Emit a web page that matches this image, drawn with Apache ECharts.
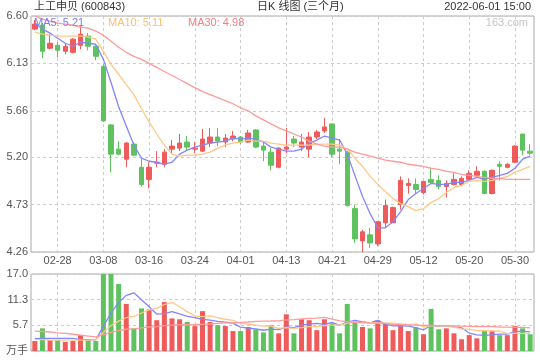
<!DOCTYPE html>
<html><head><meta charset="utf-8">
<script src="https://cdn.jsdelivr.net/npm/echarts@6/dist/echarts.min.js"></script>
<style>html,body{margin:0;padding:0;background:#fff}#c{width:540px;height:360px}</style>
</head><body><div id="c"></div><script>
const dates = ['02-23','02-24','02-25','02-28','03-01','03-02','03-03','03-04','03-07','03-08',
'03-09','03-10','03-11','03-14','03-15','03-16','03-17','03-18','03-21','03-22',
'03-23','03-24','03-25','03-28','03-29','03-30','03-31','04-01','04-06','04-07',
'04-08','04-11','04-12','04-13','04-14','04-15','04-18','04-19','04-20','04-21',
'04-22','04-25','04-26','04-27','04-28','04-29','05-05','05-06','05-09','05-10',
'05-11','05-12','05-13','05-16','05-17','05-18','05-19','05-20','05-23','05-24',
'05-25','05-26','05-27','05-30','05-31','06-01'];
const xLabels = ['02-28','03-08','03-16','03-24','04-01','04-13','04-21','04-29','05-12','05-20','05-30'];
const opens = [6.47,6.51,6.28,6.31,6.25,6.24,6.31,6.40,6.30,6.10,
5.52,5.28,5.18,5.33,5.10,4.98,5.14,5.13,5.28,5.29,
5.35,5.28,5.26,5.34,5.40,5.35,5.38,5.40,5.35,5.47,
5.31,5.25,5.10,5.28,5.38,5.30,5.28,5.40,5.46,5.53,
5.28,5.25,4.69,4.37,4.43,4.34,4.55,4.55,4.73,4.92,
4.93,4.85,4.98,4.97,4.91,4.93,4.93,4.98,5.02,5.06,
4.84,5.13,5.10,5.15,5.43,5.26];
const closes = [6.52,6.25,6.33,6.26,6.30,6.37,6.42,6.30,6.20,5.56,
5.23,5.23,5.34,5.22,4.93,5.10,5.15,5.25,5.31,5.34,
5.30,5.29,5.38,5.40,5.36,5.39,5.41,5.35,5.44,5.30,
5.27,5.12,5.29,5.30,5.34,5.35,5.40,5.45,5.50,5.23,
5.26,4.72,4.39,4.46,4.35,4.56,4.72,4.70,4.97,4.94,
4.88,4.96,4.95,4.91,4.94,4.98,4.99,5.04,5.06,4.84,
5.07,5.11,5.13,5.31,5.27,5.24];
const lows = [6.46,6.18,6.27,6.19,6.22,6.23,6.27,6.26,6.16,5.55,
5.05,5.22,5.10,5.21,4.91,4.89,5.10,5.10,5.24,5.26,
5.27,5.24,5.25,5.30,5.31,5.30,5.36,5.33,5.34,5.29,
5.16,5.07,5.09,5.24,5.30,5.26,5.20,5.38,5.44,5.20,
5.13,4.71,4.35,4.26,4.30,4.32,4.51,4.55,4.68,4.84,
4.84,4.83,4.94,4.88,4.80,4.92,4.91,4.98,5.01,4.84,
4.83,4.97,5.09,5.14,5.22,5.22];
const highs = [6.56,6.53,6.42,6.34,6.33,6.38,6.51,6.43,6.31,6.12,
5.53,5.36,5.35,5.35,5.19,5.15,5.26,5.28,5.37,5.43,
5.41,5.35,5.48,5.49,5.49,5.43,5.46,5.41,5.47,5.48,
5.36,5.29,5.30,5.49,5.41,5.43,5.45,5.47,5.59,5.53,
5.38,5.26,4.73,4.48,4.50,4.56,4.78,4.71,5.01,4.99,
4.99,4.96,5.10,5.02,4.97,5.04,5.01,5.07,5.11,5.07,
5.08,5.16,5.14,5.32,5.43,5.33];
const ma5 = [6.53,6.47,6.43,6.38,6.33,6.30,6.34,6.33,6.32,6.17,
5.94,5.70,5.51,5.32,5.19,5.16,5.15,5.13,5.15,5.23,
5.27,5.30,5.32,5.34,5.35,5.36,5.39,5.38,5.39,5.38,
5.35,5.30,5.28,5.26,5.26,5.28,5.34,5.37,5.41,5.39,
5.37,5.23,5.02,4.81,4.64,4.50,4.50,4.56,4.66,4.78,
4.84,4.89,4.94,4.93,4.93,4.95,4.95,4.97,5.00,4.98,
5.00,5.02,5.04,5.09,5.18,5.21];
const ma10 = [6.44,6.42,6.41,6.40,6.40,6.40,6.40,6.39,6.37,6.25,
6.12,6.02,5.92,5.82,5.68,5.55,5.43,5.32,5.23,5.21,
5.22,5.22,5.23,5.25,5.29,5.32,5.34,5.35,5.37,5.36,
5.36,5.34,5.33,5.32,5.32,5.32,5.32,5.33,5.33,5.33,
5.32,5.28,5.19,5.11,5.01,4.93,4.86,4.79,4.74,4.71,
4.67,4.69,4.75,4.79,4.85,4.90,4.92,4.96,4.97,4.96,
4.97,4.99,5.01,5.05,5.08,5.11];
const ma30 = [6.60,6.57,6.55,6.53,6.52,6.51,6.49,6.48,6.45,6.41,
6.35,6.29,6.24,6.20,6.17,6.13,6.09,6.05,6.01,5.97,
5.93,5.89,5.85,5.82,5.79,5.76,5.73,5.69,5.66,5.61,
5.57,5.53,5.49,5.46,5.43,5.40,5.36,5.33,5.31,5.30,
5.30,5.28,5.25,5.23,5.21,5.19,5.17,5.16,5.15,5.13,
5.12,5.11,5.09,5.08,5.06,5.05,5.03,5.02,5.01,5.00,
4.99,4.99,4.98,4.98,4.98,4.98];
const volumes = [2.2,5.0,2.4,2.4,2.0,2.2,3.5,2.4,2.2,17.0,
17.0,14.8,10.4,5.0,9.4,9.2,6.8,10.8,7.2,7.0,
6.4,5.5,8.8,6.4,5.7,5.5,4.4,4.4,5.3,4.7,
4.1,5.7,3.9,8.1,3.9,7.0,6.8,4.6,7.0,6.1,
3.9,10.4,6.4,5.3,5.0,6.8,6.1,4.6,5.5,4.4,
5.2,3.7,9.3,4.8,5.0,3.9,2.6,3.5,2.8,4.4,
4.4,3.5,3.5,5.5,5.0,3.7];
const vma5 = [2.7,2.8,2.8,2.8,2.8,2.8,2.5,2.5,2.46,5.46,
8.42,10.68,12.28,12.84,11.32,9.76,8.16,8.24,8.68,8.2,
7.64,7.38,6.98,6.82,6.56,6.38,6.16,5.28,5.06,4.86,
4.58,4.84,4.74,5.3,5.14,5.72,5.94,6.08,5.86,6.3,
5.68,6.4,6.76,6.42,6.2,6.78,5.92,5.56,5.6,5.48,
5.16,4.68,5.62,5.48,5.6,5.34,5.12,3.96,3.56,3.44,
3.54,3.72,3.72,4.26,4.38,4.24];
const vma10 = [2.5,2.5,2.4,2.4,2.4,2.4,2.4,2.4,2.5,4.13,
5.61,6.59,7.39,7.65,8.39,9.09,9.42,10.26,10.76,9.76,
8.7,7.77,7.61,7.75,7.38,7.01,6.77,6.13,5.94,5.71,
5.48,5.5,5.01,5.18,5.0,5.15,5.39,5.41,5.58,5.72,
5.7,6.17,6.42,6.14,6.25,6.23,6.16,6.16,6.01,5.84,
5.97,5.3,5.59,5.54,5.54,5.25,4.9,4.79,4.52,4.52,
4.44,4.42,3.84,3.91,3.91,3.89];
const vma30 = [4.4,4.3,4.2,4.0,3.9,3.7,3.5,3.3,3.1,3.6,
4.1,4.5,4.8,4.9,5.1,5.3,5.4,5.6,5.7,5.8,
5.8,5.8,5.9,6.0,6.1,6.2,6.2,6.3,6.4,6.53,
6.6,6.62,6.67,6.86,6.92,7.08,7.19,7.27,7.43,7.06,
6.63,6.48,6.35,6.36,6.21,6.13,6.11,5.9,5.84,5.76,
5.72,5.66,5.67,5.62,5.6,5.54,5.48,5.45,5.37,5.36,
5.37,5.3,5.28,5.2,5.23,5.12];
const priceTicks = [4.26,4.73,5.20,5.66,6.13,6.60];
const volTicks = [0,5.67,11.33,17.0];
const stockName = '上工申贝 (600843)';
const chartTitle = '日K 线图 (三个月)';
const stamp = '2022-06-01 15:00';

const UP = '#ef5b5b', DOWN = '#5ec25e';
const C5 = '#8585ff', C10 = '#ffc888', C30 = '#ff9a9a';
const FONT = '11px "Liberation Sans", Arial, "Noto Sans CJK SC", sans-serif';
const FAM = '"Liberation Sans", Arial, "Noto Sans CJK SC", sans-serif';
const last = dates.length - 1;
const showLbl = (i, v) => xLabels.indexOf(v) >= 0;
const dash = {color:'#cccccc', type:[3,3], width:1};

const chart = echarts.init(document.getElementById('c'), null, {renderer:'canvas'});
const kData = opens.map((o,i)=>[o, closes[i], lows[i], highs[i]]);
const vData = volumes.map((v,i)=>({value:v, itemStyle:{color: closes[i] >= opens[i] ? UP : DOWN}}));
function line(data, color, xi, yi){
  return {type:'line', data, xAxisIndex:xi, yAxisIndex:yi, symbol:'none', smooth:false,
    lineStyle:{color, width:1.3}, itemStyle:{color}, silent:true, z:3};
}
chart.setOption({
  animation:false,
  backgroundColor:'#fff',
  textStyle:{fontFamily:FAM},
  grid:[
    {left:31, right:6, top:16, height:236, show:true, borderColor:'#aaa', borderWidth:1},
    {left:31, right:6, top:274, height:77, show:true, borderColor:'#aaa', borderWidth:1}
  ],
  xAxis:[
    {type:'category', gridIndex:0, data:dates, boundaryGap:true,
     axisLine:{show:false}, axisTick:{show:false},
     axisLabel:{interval:showLbl, color:'#555', fontSize:11, fontFamily:FAM, margin:3},
     splitLine:{show:true, interval:showLbl, alignWithLabel:true, lineStyle:dash}},
    {type:'category', gridIndex:1, data:dates, boundaryGap:true,
     axisLine:{show:false}, axisTick:{show:false}, axisLabel:{show:false},
     splitLine:{show:true, interval:showLbl, alignWithLabel:true, lineStyle:dash}}
  ],
  yAxis:[
    {type:'value', gridIndex:0, min:priceTicks[0], max:priceTicks[priceTicks.length-1],
     axisLine:{show:false}, axisTick:{show:false, customValues:priceTicks},
     axisLabel:{customValues:priceTicks, formatter:v=>v.toFixed(2), color:'#555', fontSize:11, fontFamily:FAM, margin:3},
     splitLine:{show:true, lineStyle:dash}},
    {type:'value', gridIndex:1, min:volTicks[0], max:volTicks[volTicks.length-1],
     axisLine:{show:false}, axisTick:{show:false, customValues:volTicks},
     axisLabel:{customValues:volTicks, formatter:v=> v===0 ? '万手' : v.toFixed(1), color:'#555', fontSize:11, fontFamily:FAM, margin:3},
     splitLine:{show:true, lineStyle:dash}}
  ],
  series:[
    {type:'candlestick', data:kData, xAxisIndex:0, yAxisIndex:0, barWidth:5,
     itemStyle:{color:UP, color0:DOWN, borderColor:UP, borderColor0:DOWN, borderWidth:1}, z:2},
    line(ma5, C5, 0, 0), line(ma10, C10, 0, 0), line(ma30, C30, 0, 0),
    {type:'bar', data:vData, xAxisIndex:1, yAxisIndex:1, barWidth:5, z:2},
    line(vma5, C5, 1, 1), line(vma10, C10, 1, 1), line(vma30, C30, 1, 1)
  ],
  graphic:[
    {type:'text', x:34, y:7, z:10, style:{text:stockName, font:FONT, fill:'#333', verticalAlign:'middle'}},
    {type:'text', x:257, y:7, z:10, style:{text:chartTitle, font:FONT, fill:'#333', verticalAlign:'middle'}},
    {type:'text', x:531, y:7, z:10, style:{text:stamp, font:FONT, fill:'#333', align:'right', verticalAlign:'middle'}},
    {type:'text', x:528, y:23, z:10, style:{text:'163.com', font:FONT, fill:'#c4c4c4', align:'right', verticalAlign:'middle'}},
    {type:'text', x:34, y:23, z:10, style:{text:'MA5: '+ma5[last].toFixed(2), font:FONT, fill:'#7a7aff', verticalAlign:'middle'}},
    {type:'text', x:108, y:23, z:10, style:{text:'MA10: '+ma10[last].toFixed(2), font:FONT, fill:'#ffbf70', verticalAlign:'middle'}},
    {type:'text', x:188, y:23, z:10, style:{text:'MA30: '+ma30[last].toFixed(2), font:FONT, fill:'#ff7b7b', verticalAlign:'middle'}}
  ]
});
</script></body></html>
